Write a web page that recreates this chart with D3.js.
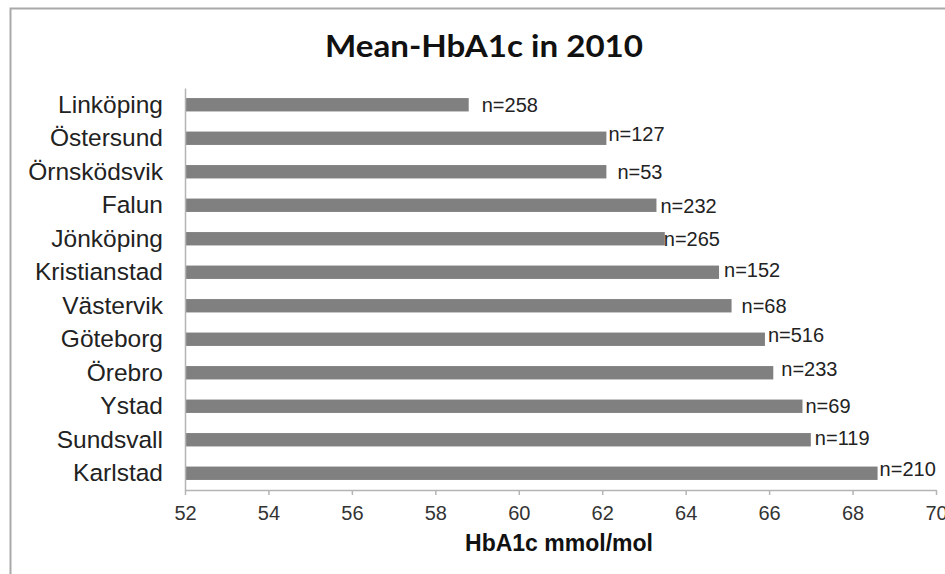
<!DOCTYPE html>
<html>
  <head>
    <meta charset="UTF-8">
    <title>Mean-HbA1c in 2010</title>
    <script src="https://d3js.org/d3.v7.min.js"></script>
    <style>
      body { margin: 0; background: #fff; }
      text { font-family: "Liberation Sans", Arial, sans-serif; }
    </style>
  </head>
  <body>
    <div id="chart"></div>
    <script>
      // data
      const clinics = ["Linköping", "Östersund", "Örnsködsvik", "Falun", "Jönköping", "Kristianstad",
        "Västervik", "Göteborg", "Örebro", "Ystad", "Sundsvall", "Karlstad"];
      const meanHbA1c = [58.8, 62.1, 62.1, 63.3, 63.5, 64.8, 65.1, 65.9, 66.1, 66.8, 67.0, 68.6];
      const patients = [258, 127, 53, 232, 265, 152, 68, 516, 233, 69, 119, 210];
      const xTicks = [52, 54, 56, 58, 60, 62, 64, 66, 68, 70];

      // hand-placed label nudges (px) like the original
      const nudgeX = [13, 2, 11, 4, -1, 5, 10, 3, 8, 3, 4, 2];
      const nudgeY = [0, -4, 0, 1, 0, -2, 0, -4, -4, 0, -2, -4];

      const width = 945;
      const height = 574;
      const m = { top: 88, right: 9, bottom: 84, left: 185 };

      const svg = d3.select("#chart")
        .append("svg")
        .attr("width", width)
        .attr("height", height);

      // outer frame
      svg.append("rect")
        .attr("x", 10.5)
        .attr("y", 8.5)
        .attr("width", width)
        .attr("height", height)
        .attr("fill", "none")
        .attr("stroke", "#a9a9a9")
        .attr("stroke-width", 2);

      const x = d3.scaleLinear()
        .domain([52, 70])
        .range([m.left, width - m.right]);

      const y = d3.scaleBand()
        .domain(clinics)
        .range([m.top, height - m.bottom])
        .paddingInner(0.6)
        .paddingOuter(0.3);

      // title
      svg.append("text")
        .attr("x", 484)
        .attr("y", 57)
        .attr("text-anchor", "middle")
        .attr("textLength", 318)
        .attr("lengthAdjust", "spacingAndGlyphs")
        .style("font-family", "Lato, 'Open Sans', sans-serif")
        .style("font-weight", "bold")
        .style("font-size", "31px")
        .attr("fill", "#111")
        .text("Mean-HbA1c in 2010");

      // bars
      svg.selectAll(".bar")
        .data(meanHbA1c)
        .enter()
        .append("rect")
        .attr("class", "bar")
        .attr("x", x(52))
        .attr("y", (d, i) => y(clinics[i]))
        .attr("width", d => x(d) - x(52))
        .attr("height", y.bandwidth())
        .attr("fill", "#808080");

      // n= labels
      svg.selectAll(".nlab")
        .data(patients)
        .enter()
        .append("text")
        .attr("class", "nlab")
        .attr("x", (d, i) => x(meanHbA1c[i]) + nudgeX[i])
        .attr("y", (d, i) => y(clinics[i]) + y.bandwidth() / 2 + nudgeY[i])
        .attr("dy", "0.36em")
        .style("font-size", "20px")
        .attr("fill", "#222")
        .text(d => "n=" + d);

      // x axis
      const xAxis = svg.append("g")
        .attr("transform", `translate(0,${height - m.bottom})`)
        .call(d3.axisBottom(x).tickValues(xTicks).tickSize(5).tickPadding(11).tickSizeOuter(0));
      xAxis.select(".domain").attr("stroke", "#b4b4b4").attr("stroke-width", 1.5);
      xAxis.selectAll(".tick line").attr("stroke", "#b4b4b4").attr("stroke-width", 1.5);
      xAxis.selectAll(".tick text")
        .style("font-size", "20px")
        .attr("fill", "#333");

      // y axis: line only, labels on the left
      const yAxis = svg.append("g")
        .attr("transform", `translate(${m.left},0)`)
        .call(d3.axisLeft(y).tickSize(0).tickPadding(22));
      yAxis.select(".domain").attr("stroke", "#b4b4b4").attr("stroke-width", 1.5);
      yAxis.selectAll(".tick text")
        .style("font-size", "24.5px")
        .attr("fill", "#222");

      // x axis title
      svg.append("text")
        .attr("x", 559)
        .attr("y", 551)
        .attr("text-anchor", "middle")
        .style("font-size", "23px")
        .style("font-weight", "bold")
        .attr("fill", "#111")
        .text("HbA1c mmol/mol");
    </script>
  </body>
</html>
